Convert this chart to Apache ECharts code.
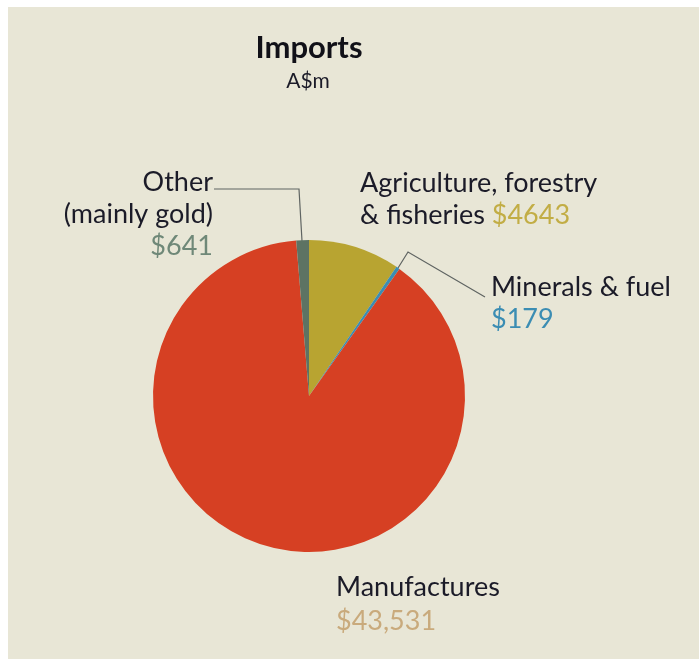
<!DOCTYPE html>
<html>
<head>
<meta charset="utf-8">
<script src="https://cdn.jsdelivr.net/npm/echarts@6/dist/echarts.min.js"></script>
<style>
  html, body { margin: 0; padding: 0; background: #ffffff; }
  #chart { width: 699px; height: 659px; }
</style>
</head>
<body>
<div id="chart"></div>
<script>
// Import categories and values (A$m), clockwise from 12 o'clock
const categories = ['Agriculture, forestry\n& fisheries', 'Minerals & fuel', 'Manufactures', 'Other\n(mainly gold)'];
const values = [4643, 179, 43531, 641];
const sliceColors = ['#b8a431', '#3b8db3', '#d64023', '#5d7363'];
const valueColors = ['#c2ad45', '#3b8db3', '#c9aa7c', '#6f8878'];

const FONT = 'Lato';
const TEXT = '#1b1b28';
const LINE_H = 32;

function money(v) {
  return '$' + (v >= 10000 ? v.toLocaleString('en-US') : String(v));
}

function labelText(p) {
  const lines = categories[p.dataIndex].split('\n');
  const val = '{v' + p.dataIndex + '|' + money(p.value) + '}';
  if (p.dataIndex === 0) {
    return '{n|' + lines[0] + '}\n{n|' + lines[1] + ' }' + val;
  }
  return lines.map(l => '{n|' + l + '}').join('\n') + '\n' + val;
}

const rich = { n: { fontFamily: FONT, fontSize: 27, lineHeight: LINE_H, color: TEXT } };
valueColors.forEach((c, i) => {
  rich['v' + i] = { fontFamily: FONT, fontSize: 27, lineHeight: LINE_H, color: c };
});

// Label anchors and leader lines
const labelSpots = [
  { x: 360, y: 167, align: 'left' },
  { x: 491, y: 271, align: 'left', line: [[398, 268], [408, 252], [485, 297]] },
  { x: 336, y: 570, align: 'left', lh: 34 },
  { x: 213, y: 166, align: 'right', line: [[302, 241], [299, 189], [214, 189]] }
];

const chart = echarts.init(document.getElementById('chart'), null, { renderer: 'canvas' });
chart.setOption({
  backgroundColor: '#ffffff',
  animation: false,
  graphic: [
    { type: 'rect', z: -10, shape: { x: 8, y: 7, width: 691, height: 652 }, style: { fill: '#e8e6d6' } },
    { type: 'text', x: 309, y: 48, style: { text: 'Imports', font: 'bold 31px Lato', fill: '#111118', textAlign: 'center', textVerticalAlign: 'middle' } },
    { type: 'text', x: 308, y: 81, style: { text: 'A$m', font: '21px Lato', fill: TEXT, textAlign: 'center', textVerticalAlign: 'middle' } }
  ],
  series: [{
    type: 'pie',
    center: [309, 396],
    radius: 156,
    startAngle: 90,
    clockwise: true,
    avoidLabelOverlap: false,
    data: values.map((v, i) => ({
      name: categories[i],
      value: v,
      itemStyle: { color: sliceColors[i] },
      label: labelSpots[i].lh ? { rich: { n: { lineHeight: labelSpots[i].lh }, ['v' + i]: { lineHeight: labelSpots[i].lh } } } : undefined
    })),
    label: { show: true, formatter: labelText, rich: rich },
    labelLine: { show: true, lineStyle: { color: '#5f6462', width: 1.2 } },
    labelLayout: function (p) {
      const s = labelSpots[p.dataIndex];
      const out = { x: s.x, y: s.y, align: s.align, verticalAlign: 'top' };
      out.labelLinePoints = s.line || [[0, 0], [0, 0], [0, 0]];
      return out;
    },
    emphasis: { disabled: true }
  }]
});
</script>
</body>
</html>
